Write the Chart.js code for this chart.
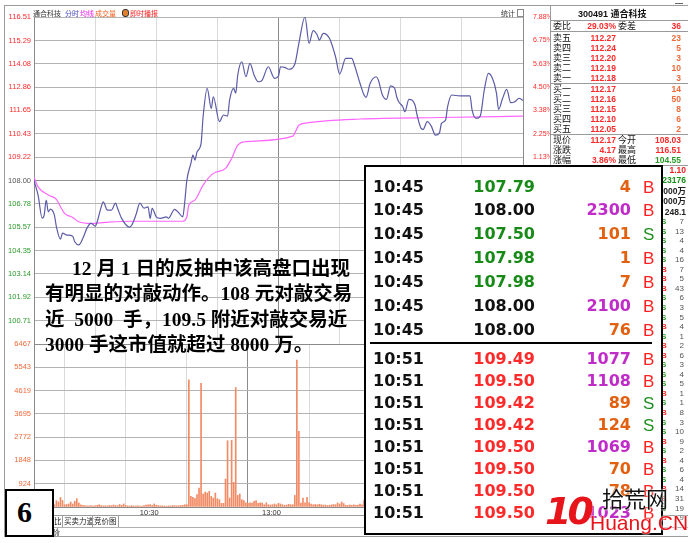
<!DOCTYPE html>
<html>
<head>
<meta charset="utf-8">
<script src="https://cdn.jsdelivr.net/npm/chart.js@4.4.0/dist/chart.umd.min.js"></script>
<style>
body{margin:0;width:688px;height:543px;background:#fff;overflow:hidden;position:relative;font-family:"Liberation Sans",Arial,"Noto Sans CJK SC",sans-serif}
.a{position:absolute;white-space:nowrap;line-height:1}
canvas{position:absolute}
.cjk{font-family:"Noto Sans CJK SC",sans-serif}
.note{position:absolute;font-family:"Liberation Serif","Noto Sans CJK SC",serif;font-weight:bold;font-size:19.5px;line-height:22px;color:#000;white-space:nowrap}
.just{text-align:justify;text-align-last:justify}
.box{position:absolute;background:#fff;border:2px solid #000}
.big{position:absolute;font-family:"DejaVu Sans",sans-serif;font-weight:bold;font-size:16px;line-height:1;white-space:nowrap}
</style>
</head>
<body>
<canvas id="price" width="551" height="344" style="left:0px;top:0px"></canvas>
<canvas id="vol" width="551" height="190" style="left:0px;top:330px"></canvas>
<div id="ui"></div>
<script>
// price line, minute index from 9:30 (0..240, 11:30 and 13:00 share 120)
const priceMin = [0,2,4,5,6,7,8,10,11,13,14,16,19,20,22,24,26,28,30,31,33,34,36,38,40,41,43,47,48,50,52,54,56,57,58,60,62,65,66,69,71,73,74,75,77,78,79,80,82,83,85,87,88,91,93,95,96,98,99,100,102,104,106,108,110,112,115,118,120,121,123,125,128,130,133,135,137,139,140,142,145,148,150,153,156,157,160,162,163,165,168,169,171,173,175,177,178,179,181,182,184,187,188,190,191,193,195,197,199,200,202,203,205,209,214,215,217,219,221,223,225,227,228,230,232,234,236,238,240];
const price = [108.00,107.24,106.04,106.20,106.98,106.37,106.51,106.20,105.59,104.95,105.26,105.16,105.10,104.81,104.65,105.00,105.52,105.78,105.62,105.85,106.63,106.89,106.46,106.46,106.82,106.56,106.03,105.57,105.68,106.20,106.82,106.56,106.63,106.03,106.55,106.11,106.03,106.11,106.03,106.50,106.32,106.11,106.89,108.00,108.89,109.32,109.06,109.49,109.93,111.32,112.80,111.75,112.36,111.06,111.41,111.35,112.19,112.80,112.54,113.49,114.18,113.40,114.10,113.49,113.14,113.23,113.92,113.32,113.44,113.92,113.89,113.79,114.05,115.14,116.51,115.14,115.80,115.57,115.31,115.66,115.40,114.44,113.54,114.36,114.36,114.10,113.06,112.45,112.33,113.06,113.40,113.23,112.45,112.22,112.92,112.80,112.36,112.10,111.84,111.58,112.22,111.93,111.41,110.71,110.66,111.06,110.83,110.36,110.48,110.97,111.15,111.84,112.45,112.40,112.41,111.67,111.23,111.35,112.71,113.58,113.32,112.54,111.70,112.28,112.74,112.05,112.10,112.28,112.17];
const avgMin = [0,2,7,11,13,15,19,22,28,35,47,63,73,75,76,79,83,88,94,97,100,104,127,130,134,160,200,240];
const avgPrice = [108.16,107.67,107.24,107.02,106.63,106.29,106.08,105.85,105.76,105.82,105.88,105.88,105.88,106.10,106.72,106.98,107.76,108.37,108.63,109.15,109.84,110.02,110.31,110.88,111.00,111.20,111.28,111.35];
// volume per minute, 241 values
const volume = [
620,240,180,210,150,170,130,160,140,120,
90,250,200,380,260,90,100,120,200,120,
225,330,160,90,70,55,50,45,60,40,
55,70,90,60,45,50,40,65,55,80,
60,50,100,70,120,60,45,40,55,35,
45,50,40,35,60,75,90,95,60,120,
70,55,45,50,40,35,45,40,60,55,
45,50,60,70,90,90,5050,420,380,330,
490,750,4910,515,595,555,620,420,355,555,
330,290,145,145,1110,2630,355,2650,980,4740,
460,515,290,250,170,145,170,160,225,250,
145,170,160,90,170,90,80,90,120,90,
145,120,90,65,80,105,90,90,460,5830,
3000,160,355,170,380,170,120,90,100,85,
110,90,75,80,60,70,85,100,90,160,
120,200,140,70,60,80,70,90,65,75,
120,90,250,80,70,95,60,110,85,70,
90,120,75,60,80,140,95,70,55,60,
85,120,150,90,70,60,75,110,180,130,
95,80,60,70,85,140,200,110,90,75,
130,160,220,150,120,90,80,70,60,75,
65,90,70,85,110,160,210,130,90,80,
150,240,180,120,95,130,170,210,140,100,
90,120,80,75,95,110,130,90,150,200,
380];
const xTicks = [0,30,60,90,120,150,180,210,240];
const xTickText = ['','','10:30','','13:00','','','',''];
const priceTicks = [99.49,100.71,101.92,103.14,104.35,105.57,106.78,108.00,109.22,110.43,111.65,112.86,114.08,115.29,116.51];
const pctTicks = [-7.88,-6.75,-5.63,-4.50,-3.38,-2.25,-1.13,0,1.13,2.25,3.38,4.50,5.63,6.75,7.88];
const volTicks = [0,924,1848,2772,3695,4619,5543,6467];
const prevClose = 108.00;

// order book panel
const bookName = ['卖五','卖四','卖三','卖二','卖一','买一','买二','买三','买四','买五'];
const bookPrice = ['112.27','112.24','112.20','112.19','112.18','112.17','112.16','112.15','112.10','112.05'];
const bookQty = ['23','5','3','10','3','14','50','8','6','2'];
const statRows = [['现价','112.17','今开','108.03'],['涨跌','4.17','最高','116.51'],['涨幅','3.86%','最低','104.55']];
const sideText = ['1.10','23176','000万','000万','248.1'];
const sideColor = ['#f02020','#169016','#222','#222','#222'];
const tickVols = [7,13,4,4,16,7,5,43,6,3,5,4,1,2,6,3,4,5,1,1,8,3,10,9,2,4,6,4,14,31,19,9];
const tickSide = ['S','S','S','S','S','B','B','B','S','S','S','B','S','B','B','S','S','S','B','S','B','S','S','B','S','B','S','S','B','B','S','B'];

// tick-by-tick overlay
const tradeTime1 = ['10:45','10:45','10:45','10:45','10:45','10:45','10:45'];
const tradePrice1 = ['107.79','108.00','107.50','107.98','107.98','108.00','108.00'];
const tradeVol1 = ['4','2300','101','1','7','2100','76'];
const tradeSide1 = ['B','B','S','B','B','B','B'];
const tradeTime2 = ['10:51','10:51','10:51','10:51','10:51','10:51','10:51','10:51'];
const tradePrice2 = ['109.49','109.50','109.42','109.42','109.50','109.50','109.50','109.50'];
const tradeVol2 = ['1077','1108','89','124','1069','70','78','1023'];
const tradeSide2 = ['B','B','S','S','B','B','B','B'];

const RED = '#ff2a2a', GREEN = '#2a9a2a', ORANGE = '#f06a3a';

function fixW(w) { return s => { s.width = w; s.paddingTop = 0; s.paddingBottom = 0; }; }
function fixH(h) { return s => { s.height = h; s.paddingLeft = 0; s.paddingRight = 0; }; }
const gridX = {
  color: c => (c.tick && c.tick.value === 120) ? '#8c8c8c' : '#dadada',
  drawTicks: false
};

new Chart(document.getElementById('price'), {
  type: 'line',
  data: {
    datasets: [
      { data: priceMin.map((m, i) => ({ x: m, y: price[i] })), borderColor: '#5b5ba8', borderWidth: 1.2, pointRadius: 0, cubicInterpolationMode: 'monotone', yAxisID: 'y' },
      { data: avgMin.map((m, i) => ({ x: m, y: avgPrice[i] })), borderColor: '#ff66ff', borderWidth: 1.2, pointRadius: 0, cubicInterpolationMode: 'monotone', yAxisID: 'y' },
    ],
  },
  options: {
    responsive: false, animation: false, events: [],
    layout: { padding: { top: 17, left: 0, right: 0, bottom: 0 } },
    plugins: { legend: { display: false }, tooltip: { enabled: false } },
    scales: {
      x: {
        type: 'linear', min: 0, max: 240,
        afterBuildTicks: s => { s.ticks = xTicks.map(v => ({ value: v })); },
        afterFit: fixH(0),
        ticks: { display: false }, grid: gridX, border: { display: false },
      },
      y: {
        position: 'left', min: 99.49, max: 116.51,
        afterBuildTicks: s => { s.ticks = priceTicks.map(v => ({ value: v })); },
        afterFit: fixW(34),
        ticks: {
          autoSkip: false, padding: 3, font: { size: 7.5, family: 'Liberation Sans' },
          color: c => c.tick.value > prevClose + 0.001 ? RED : (c.tick.value < prevClose - 0.001 ? GREEN : '#555'),
          callback: v => v < 100 ? '' : v.toFixed(2),
        },
        grid: { color: c => (c.tick && Math.abs(c.tick.value - prevClose) < 0.001) ? '#8a8a8a' : '#b4b4b4', drawTicks: false },
        border: { color: '#8a8a8a' },
      },
      y2: {
        position: 'right', min: -7.88, max: 7.88,
        afterBuildTicks: s => { s.ticks = pctTicks.map(v => ({ value: v })); },
        afterFit: fixW(28),
        ticks: { autoSkip: false, padding: 2, color: RED, font: { size: 7, family: 'Liberation Sans' }, callback: v => v <= 0 ? '' : v.toFixed(2) + '%' },
        grid: { display: false }, border: { color: '#8a8a8a' },
      },
    },
  },
});

new Chart(document.getElementById('vol'), {
  type: 'bar',
  data: {
    datasets: [{ data: volume.map((v, i) => ({ x: i, y: v })), backgroundColor: '#f28a64', barThickness: 1 }],
  },
  options: {
    responsive: false, animation: false, events: [],
    layout: { padding: { top: 14, left: 0, right: 28, bottom: 0 } },
    plugins: { legend: { display: false }, tooltip: { enabled: false } },
    scales: {
      x: {
        type: 'linear', min: 0, max: 240, offset: false,
        afterBuildTicks: s => { s.ticks = xTicks.map(v => ({ value: v })); },
        afterFit: fixH(13),
        ticks: { autoSkip: false, maxRotation: 0, padding: 1, labelOffset: -7, color: '#333', font: { size: 7.5, family: 'Liberation Sans' }, callback: (v, i) => xTickText[i] },
        grid: gridX, border: { color: '#8a8a8a' },
      },
      y: {
        position: 'left', min: 0, max: 6467,
        afterBuildTicks: s => { s.ticks = volTicks.map(v => ({ value: v })); },
        afterFit: fixW(34),
        ticks: { autoSkip: false, padding: 3, color: ORANGE, font: { size: 7.5, family: 'Liberation Sans' }, callback: v => v === 0 ? '' : String(v) },
        grid: { color: c => (c.tick && c.tick.value === 6467) ? '#8a8a8a' : '#b4b4b4', drawTicks: false },
        border: { color: '#8a8a8a' },
      },
    },
  },
});

// ---- page furniture ----
const ui = document.getElementById('ui');
function put(html) { ui.insertAdjacentHTML('beforeend', html); }
function txt(x, y, s, css) { put(`<div class="a" style="left:${x}px;top:${y}px;${css || ''}">${s}</div>`); }
function rtxt(r, y, s, css) { put(`<div class="a" style="right:${688 - r}px;top:${y}px;text-align:right;${css || ''}">${s}</div>`); }
function line(x, y, w, h, c) { put(`<div class="a" style="left:${x}px;top:${y}px;width:${w}px;height:${h}px;background:${c}"></div>`); }

// window frame
line(4, 5, 684, 1, '#9a9a9a');
line(4, 5, 1, 532, '#9a9a9a');
line(4, 536, 684, 1, '#9a9a9a');
line(675, 3, 8, 1, '#666');

// header
const hf = 'font-size:7px;';
txt(33, 10, '通合科技', hf + 'color:#333');
txt(65, 10, '分时', hf + 'color:#4646c0');
txt(80, 10, '均线', hf + 'color:#f020f0');
txt(95, 10, '成交量', hf + 'color:#f06020');
put('<div class="a" style="left:122px;top:9px;width:5px;height:6px;border-radius:3px;background:#e08030;border:1px solid #333"></div>');
txt(130, 10, '即时播报', hf + 'color:#ff2020');
txt(501, 10, '统计', hf + 'color:#333');
put('<div class="a" style="left:517px;top:9px;width:5px;height:6px;border:1px solid #888"></div>');

// order book panel
line(550, 5, 1, 160, '#9a9a9a');
line(550, 20, 138, 1, '#9a9a9a');
line(550, 31, 138, 1, '#9a9a9a');
line(550, 83, 138, 1, '#9a9a9a');
line(550, 134, 138, 1, '#9a9a9a');
line(550, 165, 138, 1, '#9a9a9a');
txt(578, 9, '300491 <span class="cjk">通合科技</span>', 'font-size:9px;font-weight:bold;color:#111');
const lf = 'font-size:9px;color:#111;font-family:Noto Sans CJK SC';
const nf = 'font-size:8.5px;font-weight:bold;';
txt(553, 21, '委比', lf);
rtxt(616, 22, '29.03%', nf + 'color:' + RED);
txt(618, 21, '委差', lf);
rtxt(681, 22, '36', nf + 'color:' + RED);
bookName.forEach((n, i) => {
  const y = 33 + i * 10.1;
  txt(553, y, n, lf);
  rtxt(616, y + 1, bookPrice[i], nf + 'color:' + RED);
  rtxt(681, y + 1, bookQty[i], nf + 'color:' + ORANGE);
});
statRows.forEach((r, i) => {
  const y = 135 + i * 10.2;
  txt(553, y, r[0], lf);
  rtxt(616, y + 1, r[1], nf + 'color:' + RED);
  txt(618, y, r[2], lf);
  rtxt(681, y + 1, r[3], nf + 'color:' + (i === 2 ? GREEN : RED));
});
sideText.forEach((s, i) => {
  rtxt(686, 166 + i * 10.4, s, nf + 'color:' + sideColor[i] + ';font-family:Liberation Sans,Noto Sans CJK SC');
});
tickVols.forEach((v, i) => {
  const y = 218 + i * 9.55;
  txt(661, y, tickSide[i], 'font-size:8px;font-weight:bold;color:' + (tickSide[i] === 'B' ? RED : GREEN));
  rtxt(684, y, String(v), 'font-size:8px;color:#555');
});

// bottom tabs
line(5, 515, 683, 1, '#9a9a9a');
line(5, 527, 683, 1, '#b0b0b0');
txt(54, 518, '比', 'font-size:7.5px;color:#222');
line(62, 516, 1, 11, '#9a9a9a');
txt(64, 518, '买卖力道', 'font-size:7.5px;color:#222');
line(92, 516, 1, 11, '#9a9a9a');
txt(94, 518, '竞价图', 'font-size:7.5px;color:#222');
line(118, 516, 1, 11, '#9a9a9a');
txt(7, 529, '扩展六', 'font-size:7.5px;color:#222');
txt(30, 529, '关联报价', 'font-size:7.5px;color:#222');
line(57, 528, 1, 8, '#9a9a9a');

// annotation text
put('<div class="note just" style="left:72px;top:258px;width:276px">12 月 1 日的反抽中该高盘口出现</div>');
put('<div class="note just" style="left:45px;top:283px;width:302px">有明显的对敲动作。108 元对敲交易</div>');
put('<div class="note just" style="left:45px;top:309px;width:302px">近&nbsp; 5000&nbsp; 手，109.5 附近对敲交易近</div>');
put('<div class="note" style="left:45px;top:334px">3000 手这市值就超过 8000 万。</div>');

// page number box
put('<div class="box" style="left:5px;top:489px;width:45px;height:44px"></div>');
put('<div class="a" style="left:17px;top:497px;font-family:Liberation Serif,serif;font-weight:bold;font-size:30px;color:#000">6</div>');

// tick-by-tick box
put('<div class="box" style="left:364px;top:165px;width:295px;height:366px"></div>');
function priceColor(p) { const v = parseFloat(p); return v > prevClose ? RED : (v < prevClose ? '#188a18' : '#111'); }
function tradeRow(y, t, p, v, s) {
  put(`<div class="big" style="left:373px;top:${y - 8}px;color:#111">${t}</div>`);
  put(`<div class="big" style="right:${688 - 535}px;top:${y - 8}px;color:${priceColor(p)}">${p}</div>`);
  put(`<div class="big" style="right:${688 - 631}px;top:${y - 8}px;color:${parseInt(v) >= 1000 ? '#c02cc8' : '#e2600f'}">${v}</div>`);
  put(`<div class="big" style="left:643px;top:${y - 8}px;color:${s === 'B' ? '#ff2020' : '#1e8e1e'};font-family:Liberation Sans;font-size:17px;font-weight:normal">${s}</div>`);
}
tradeTime1.forEach((t, i) => tradeRow(186.5 + i * 23.9, t, tradePrice1[i], tradeVol1[i], tradeSide1[i]));
line(370, 342, 282, 2, '#000');
tradeTime2.forEach((t, i) => tradeRow(358.5 + i * 22.06, t, tradePrice2[i], tradeVol2[i], tradeSide2[i]));

// watermark
put('<div class="a" style="left:545px;top:492px;font-family:DejaVu Sans,sans-serif;font-style:italic;font-weight:bold;font-size:38px;color:#e8141b;letter-spacing:-4px;text-shadow:0 0 2px #fff">10</div>');
put('<div class="a" style="left:602px;top:486px;font-family:Noto Sans CJK SC;font-size:22px;color:#111;text-shadow:0 0 2px #fff,0 0 2px #fff">拾荒网</div>');
put('<div class="a" style="left:590px;top:512px;font-family:Liberation Sans,sans-serif;font-size:21px;color:#e8141b;text-shadow:0 0 2px #fff,0 0 2px #fff">Huang.CN</div>');
</script>
</body>
</html>
